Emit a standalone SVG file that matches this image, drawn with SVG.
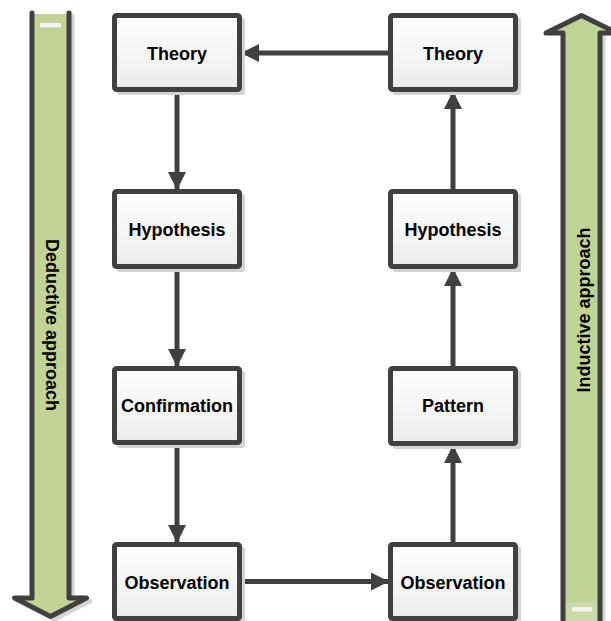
<svg xmlns="http://www.w3.org/2000/svg" width="611" height="621" viewBox="0 0 611 621">
<defs>
<linearGradient id="boxfill" x1="0" y1="0" x2="0" y2="1">
<stop offset="0" stop-color="#ffffff"/>
<stop offset="1" stop-color="#ececec"/>
</linearGradient>
<marker id="ah" viewBox="0 0 18 18" refX="17" refY="9" markerWidth="18" markerHeight="18" markerUnits="userSpaceOnUse" orient="auto">
<path d="M0,0 L18,9 L0,18 Z" fill="#404040"/>
</marker>
<style>
.box{fill:url(#boxfill);stroke:#404040;stroke-width:5;}
.shadow{fill:#d4d4d4;}
.lbl{font-family:"Liberation Sans",Arial,sans-serif;font-weight:bold;font-size:18px;fill:#000;text-anchor:middle;}
.conn{fill:none;stroke:#404040;stroke-width:5;marker-end:url(#ah);}
.bigfill{fill:#c2d398;}
.bigline{fill:none;stroke:#404040;stroke-width:5;stroke-linejoin:round;stroke-linecap:round;}
.bigshadow{fill:none;stroke:#d4d4d4;stroke-width:5;stroke-linejoin:round;stroke-linecap:round;}
</style>
</defs>
<rect width="611" height="621" fill="#ffffff"/>

<g id="deductive-arrow">
<path class="bigshadow" d="M72,16 L72,601 L89.5,601 L53.5,619.5"/>
<polygon class="bigfill" points="32,14 69,14 69,598 86.5,598 50.5,616.5 14.5,598 32,598"/>
<rect x="40" y="23" width="21" height="4.5" fill="#f4f4ee"/>
<path class="bigline" d="M32,13 L32,598 L14.5,598 L50.5,616.5 L86.5,598 L69,598 L69,13"/>
<text class="lbl" transform="translate(45.5,325) rotate(90)">Deductive approach</text>
</g>

<g id="inductive-arrow">
<path class="bigshadow" d="M603,36 L603,621"/>
<polygon class="bigfill" points="563,621 563,33 546,33 581.5,15.5 617,33 600,33 600,621"/>
<rect x="565" y="602" width="33" height="19" fill="#cad9a6"/>
<rect x="572" y="607" width="20" height="4.5" fill="#f4f4ee"/>
<path class="bigline" d="M563,621 L563,33 L546,33 L581.5,15.5 L617,33 L600,33 L600,621"/>
<text class="lbl" transform="translate(589.5,310) rotate(-90)">Inductive approach</text>
</g>

<g id="connectors">
<line class="conn" x1="388" y1="53" x2="242" y2="53"/>
<line class="conn" x1="177" y1="92" x2="177" y2="189"/>
<line class="conn" x1="177" y1="269" x2="177" y2="366"/>
<line class="conn" x1="177" y1="445" x2="177" y2="542"/>
<line class="conn" x1="242" y1="581.5" x2="388" y2="581.5"/>
<line class="conn" x1="453" y1="542" x2="453" y2="446"/>
<line class="conn" x1="453" y1="366" x2="453" y2="269"/>
<line class="conn" x1="453" y1="189" x2="453" y2="92"/>
</g>

<g id="theory-left">
<rect class="shadow" x="117" y="18" width="128" height="77" rx="2"/>
<rect class="box" x="114.5" y="15.5" width="125" height="74" rx="2"/>
<text class="lbl" x="177" y="59.5">Theory</text>
</g>
<g id="hypothesis-left">
<rect class="shadow" x="117" y="194" width="128" height="78" rx="2"/>
<rect class="box" x="114.5" y="191.5" width="125" height="75" rx="2"/>
<text class="lbl" x="177" y="235.5">Hypothesis</text>
</g>
<g id="confirmation-left">
<rect class="shadow" x="117" y="371" width="128" height="77" rx="2"/>
<rect class="box" x="114.5" y="368.5" width="125" height="74" rx="2"/>
<text class="lbl" x="177" y="412">Confirmation</text>
</g>
<g id="observation-left">
<rect class="shadow" x="117" y="547" width="128" height="77" rx="2"/>
<rect class="box" x="114.5" y="544.5" width="125" height="74" rx="2"/>
<text class="lbl" x="177" y="588.5">Observation</text>
</g>

<g id="theory-right">
<rect class="shadow" x="393" y="18" width="128" height="77" rx="2"/>
<rect class="box" x="390.5" y="15.5" width="125" height="74" rx="2"/>
<text class="lbl" x="453" y="59.5">Theory</text>
</g>
<g id="hypothesis-right">
<rect class="shadow" x="393" y="194" width="128" height="78" rx="2"/>
<rect class="box" x="390.5" y="191.5" width="125" height="75" rx="2"/>
<text class="lbl" x="453" y="235.5">Hypothesis</text>
</g>
<g id="pattern-right">
<rect class="shadow" x="393" y="371" width="128" height="78" rx="2"/>
<rect class="box" x="390.5" y="368.5" width="125" height="75" rx="2"/>
<text class="lbl" x="453" y="412">Pattern</text>
</g>
<g id="observation-right">
<rect class="shadow" x="393" y="547" width="128" height="77" rx="2"/>
<rect class="box" x="390.5" y="544.5" width="125" height="74" rx="2"/>
<text class="lbl" x="453" y="588.5">Observation</text>
</g>
</svg>
